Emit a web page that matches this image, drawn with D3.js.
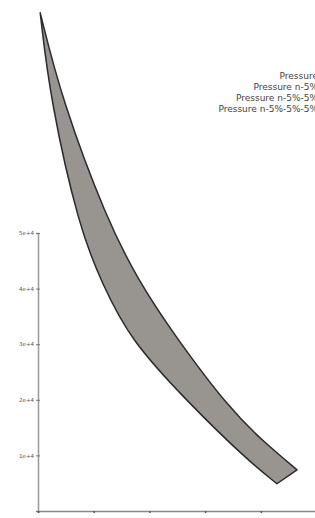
<!DOCTYPE html>
<html>
<head>
<meta charset="utf-8">
<script src="https://cdn.jsdelivr.net/npm/d3@7"></script>
<style>
  body { margin: 0; background: #fff; overflow: hidden; }
  svg { display: block; }
</style>
</head>
<body>
<div id="chart"></div>
<script>
// outer (lower-left) edge of the band
var lowerX = [0.04, 0.22, 0.75, 1.15, 1.65, 2.70, 3.72, 4.29];
var lowerY = [8.96, 7.39, 5.05, 4.10, 3.08, 1.95, 0.95, 0.49];
// inner (upper-right) edge of the band
var upperX = [0.04, 0.43, 1.24, 1.80, 2.42, 3.45, 4.08, 4.65];
var upperY = [8.96, 7.39, 5.23, 4.15, 3.20, 1.82, 1.22, 0.74];

var yTicks = [0, 1, 2, 3, 4, 5];
var yTickLabels = ["", "1e+4", "2e+4", "3e+4", "4e+4", "5e+4"];
var xTicks = [0, 1, 2, 3, 4, 5];

var legendLabels = ["Pressure", "Pressure n-5%", "Pressure n-5%-5%", "Pressure n-5%-5%-5%"];

var width = 315;
var height = 518;
var margin = {left: 38, bottom: 7};

var x = d3.scaleLinear()
  .domain([0, 5])
  .range([margin.left, margin.left + 5 * 55.7]);

var y = d3.scaleLinear()
  .domain([0, 5])
  .range([height - margin.bottom, height - margin.bottom - 5 * 55.6]);

var svg = d3.select("#chart")
  .append("svg")
  .attr("width", width)
  .attr("height", height);

// axes
var yAxis = g => g
  .attr("transform", `translate(${margin.left},0)`)
  .call(d3.axisLeft(y).tickValues(yTicks).tickSize(2).tickFormat((d, i) => yTickLabels[i]))
  .call(g => g.select(".domain").attr("stroke", "#999").attr("stroke-width", 1.5))
  .call(g => g.selectAll(".tick line").attr("stroke", "#777").attr("x2", 2).attr("x1", -2))
  .call(g => g.selectAll(".tick text").attr("font-size", 5.5).attr("fill", "#555")
    .attr("font-family", "DejaVu Sans").attr("x", -4));

var xAxis = g => g
  .attr("transform", `translate(0,${y(0)})`)
  .call(d3.axisBottom(x).tickValues(xTicks).tickSize(2).tickFormat(""))
  .call(g => g.select(".domain").attr("stroke", "#888").attr("stroke-width", 1.5))
  .call(g => g.selectAll(".tick line").attr("stroke", "#555").attr("stroke-width", 1.5));

svg.append("g").call(yAxis);
svg.append("g").call(xAxis);

// band: upper edge down to its end, across, then lower edge back up
var upper = upperX.map((d, i) => [d, upperY[i]]);
var lower = lowerX.map((d, i) => [d, lowerY[i]]).reverse();

var line = d3.line()
  .x(d => x(d[0]))
  .y(d => y(d[1]))
  .curve(d3.curveBasis);

var bandPath = line(upper) + line(lower).replace(/^M/, "L") + "Z";

svg.append("path")
  .attr("d", bandPath)
  .attr("fill", "#98948f")
  .attr("stroke", "#2b2b2b")
  .attr("stroke-width", 1.5)
  .attr("stroke-linejoin", "round");

// legend, right aligned past the visible edge (cut off as in the source)
svg.append("g")
  .selectAll("text")
  .data(legendLabels)
  .join("text")
  .attr("x", 318)
  .attr("y", (d, i) => 79 + i * 11)
  .attr("text-anchor", "end")
  .attr("font-family", "DejaVu Sans")
  .attr("font-size", 9)
  .attr("fill", "#444")
  .text(d => d);
</script>
</body>
</html>
